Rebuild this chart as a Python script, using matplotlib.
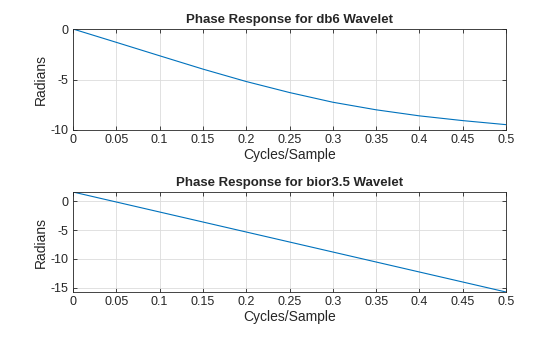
import numpy as np
import matplotlib
matplotlib.use("Agg")
import matplotlib.pyplot as plt

plt.rcParams['font.family'] = ['Liberation Sans', 'DejaVu Sans']
plt.rcParams['font.size'] = 9

# ===== data =====
freq = [0, 0.05, 0.1, 0.15, 0.2, 0.25, 0.3, 0.35, 0.4, 0.45, 0.5]
phase_db6 = [0, -1.32, -2.65, -3.97, -5.2, -6.29, -7.25, -8.0, -8.6, -9.07, -9.47]
freq_bior = [0, 0.5]
phase_bior = [1.571, -15.708]
xticks = [0, 0.05, 0.1, 0.15, 0.2, 0.25, 0.3, 0.35, 0.4, 0.45, 0.5]
xticklabels = ['0', '0.05', '0.1', '0.15', '0.2', '0.25', '0.3', '0.35', '0.4', '0.45', '0.5']

blue = '#0072BD'
fig = plt.figure(figsize=(5.6, 3.37), dpi=100)

def style(ax, title, ylim, yticks):
    ax.set_xlim(0, 0.5)
    ax.set_ylim(*ylim)
    ax.set_xticks(xticks)
    ax.set_xticklabels(xticklabels)
    ax.set_yticks(yticks)
    ax.set_yticklabels([str(t) for t in yticks])
    ax.grid(True, color='#dcdcdc', linewidth=0.6)
    ax.set_axisbelow(True)
    ax.tick_params(direction='in', top=True, right=True, length=3,
                   width=0.6, colors='#262626', labelsize=9, pad=3)
    for s in ax.spines.values():
        s.set_linewidth(0.6)
        s.set_color('#262626')
    ax.set_title(title, fontsize=9.5, fontweight='bold', color='#262626', pad=4)
    ax.set_xlabel('Cycles/Sample', fontsize=10, color='#262626', labelpad=1)
    ax.set_ylabel('Radians', fontsize=10, color='#262626', labelpad=2)

ax1 = fig.add_axes([73/560, 1 - 130/337, 433/560, 101/337])
ax1.plot(freq, phase_db6, color=blue, linewidth=0.8)
style(ax1, 'Phase Response for db6 Wavelet', (-10, 0), [-10, -5, 0])

ax2 = fig.add_axes([73/560, 1 - 292/337, 433/560, 100/337])
ax2.plot(freq_bior, phase_bior, color=blue, linewidth=0.8)
style(ax2, 'Phase Response for bior3.5 Wavelet', (-15.708, 1.571), [-15, -10, -5, 0])

fig.savefig('out.png', dpi=100)
